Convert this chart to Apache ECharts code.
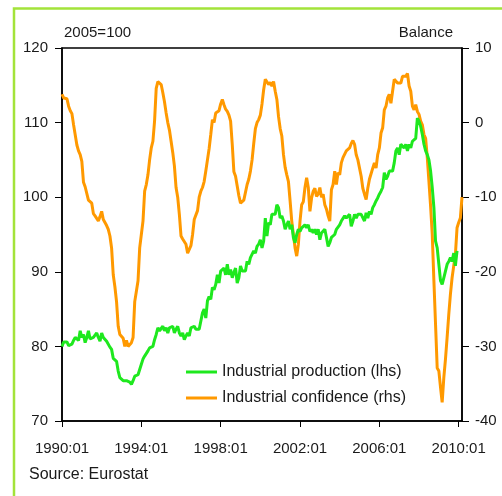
<!DOCTYPE html>
<html>
<head>
<meta charset="utf-8">
<script src="https://cdn.jsdelivr.net/npm/echarts@6/dist/echarts.min.js"></script>
<style>
  html, body { margin: 0; padding: 0; background: #fff; }
  #chart { width: 502px; height: 496px; }
</style>
</head>
<body>
<div id="chart"></div>
<script>
// monthly values, 1990:01 onwards
var production = [
  80.0, 80.6, 80.4, 80.6, 80.1, 79.9, 80.3, 80.8, 81.2, 81.4, 80.8, 82.1,
  81.2, 81.6, 80.5, 81.2, 82.1, 81.0, 81.2, 81.2, 81.2, 81.8, 81.2, 80.7,
  81.8, 81.2, 81.0, 80.7, 80.7, 79.9, 79.6, 78.4, 78.2, 78.0, 76.7, 75.8,
  75.6, 75.4, 75.6, 75.4, 75.4, 75.2, 74.9, 75.4, 76.0, 75.8, 76.2, 76.9,
  77.6, 78.3, 78.7, 78.5, 79.4, 79.8, 79.6, 80.0, 80.9, 81.6, 82.5, 82.1,
  82.3, 82.7, 82.1, 82.5, 81.8, 82.5, 82.3, 82.7, 81.8, 82.3, 82.7, 81.8,
  81.4, 81.8, 80.9, 81.4, 81.8, 81.4, 82.5, 82.3, 82.7, 82.3, 82.5, 82.3,
  82.3, 84.5, 85.0, 83.8, 86.1, 86.7, 86.3, 87.9, 87.6, 88.3, 89.6, 88.5,
  90.1, 90.3, 90.5, 89.6, 91.0, 89.6, 90.3, 89.2, 89.9, 90.5, 88.5, 89.2,
  90.8, 90.1, 90.3, 90.1, 91.4, 91.0, 91.9, 91.9, 92.8, 92.5, 93.4, 93.7,
  94.3, 93.2, 94.1, 97.2, 94.8, 96.6, 96.3, 97.7, 97.5, 97.7, 99.0, 98.6,
  97.2, 97.5, 96.8, 95.7, 96.3, 96.8, 95.7, 96.3, 94.6, 93.9, 95.0, 95.7,
  95.4, 95.9, 95.7, 96.3, 95.9, 96.3, 95.4, 95.7, 95.2, 95.7, 95.0, 95.7,
  94.3, 95.2, 95.0, 95.7, 94.6, 93.4, 93.9, 94.6, 94.8, 95.0, 95.7, 95.9,
  96.3, 96.8, 96.8, 97.5, 97.2, 97.0, 97.7, 96.1, 96.8, 97.7, 97.2, 97.7,
  97.5, 97.7, 97.5, 96.8, 97.9, 97.2, 98.1, 97.7, 98.6, 99.0, 99.5, 99.9,
  100.4, 100.8, 101.3, 103.3, 102.4, 102.8, 103.5, 103.3, 103.5, 104.6, 106.2, 106.6,
  105.7, 107.1, 107.3, 106.6, 107.1, 106.2, 107.1, 106.6, 107.5, 107.3, 107.9, 110.6,
  110.2, 109.5, 108.4, 107.1, 106.2, 105.7, 105.0, 103.5, 101.3, 98.6, 94.1, 93.2,
  91.0, 88.8, 88.3, 89.2, 90.1, 91.0, 91.4, 91.9, 91.4, 92.5, 90.8, 92.8
];

var confidence = [
  3.8, 3.3, 3.4, 3.2, 2.2, 1.6, 1.2, -0.3, -0.3, -3.0, -3.8, -4.3,
  -5.2, -8.0, -8.6, -8.8, -10.4, -10.6, -10.8, -12.2, -12.5, -12.6, -13.2, -12.6,
  -11.9, -13.0, -13.4, -13.8, -14.3, -15.2, -16.8, -20.4, -22.0, -24.0, -27.3, -28.4,
  -28.6, -28.9, -30.0, -29.2, -30.0, -29.9, -29.5, -28.8, -24.0, -22.6, -21.2, -16.8,
  -15.0, -13.2, -9.2, -8.3, -7.0, -5.0, -3.4, -2.5, 0.2, 4.6, 5.5, 5.6,
  5.1, 4.0, 2.8, 1.3, 0.0, -1.0, -2.5, -4.0, -5.8, -8.7, -10.0, -12.3,
  -15.2, -15.6, -15.8, -16.3, -17.5, -17.7, -16.5, -15.0, -13.0, -13.2, -11.8, -10.0,
  -9.2, -8.7, -7.9, -6.5, -5.0, -3.5, -1.6, 0.4, 0.0, 1.3, 1.4, 1.6,
  2.5, 3.1, 2.4, 1.8, 1.5, 1.0, 0.2, -2.9, -6.6, -7.2, -8.5, -9.8,
  -10.8, -11.0, -10.4, -10.2, -8.3, -7.6, -6.5, -5.0, -2.8, -0.8, 0.0, 0.4,
  1.0, 2.5, 4.4, 5.8, 5.6, 5.1, 5.4, 4.9, 5.5, 4.2, 3.1, 0.8,
  -0.8, -1.8, -4.3, -6.0, -7.0, -7.9, -10.5, -13.2, -15.0, -16.8, -17.9, -16.3,
  -13.2, -11.0, -10.6, -8.7, -7.4, -8.7, -11.9, -10.1, -9.2, -8.8, -9.9, -9.6,
  -8.7, -10.0, -9.6, -11.0, -11.6, -12.5, -13.2, -9.0, -8.3, -6.5, -8.3, -6.7,
  -7.0, -5.4, -4.7, -4.8, -3.8, -3.6, -3.4, -2.8, -2.4, -2.9, -4.3, -5.0,
  -4.8, -7.2, -8.8, -9.6, -10.3, -8.8, -7.6, -7.4, -6.1, -5.4, -6.1, -4.3,
  -3.4, -1.4, -0.7, 1.7, 2.2, 3.3, 3.8, 2.6, 4.2, 5.8, 6.0, 5.3,
  5.5, 5.3, 6.2, 6.4, 6.2, 6.6, 4.9, 4.2, 2.2, 1.7, 2.4, 1.5,
  1.1, 0.2, -0.3, -1.6, -2.1, -4.7, -7.9, -11.2, -15.0, -21.2, -27.1, -32.9,
  -33.3, -35.5, -37.5, -34.2, -31.7, -28.8, -25.7, -23.0, -20.8, -19.2, -17.7, -14.1,
  -13.4, -12.8, -10.0
];

// month labels 1990:01 ... 2010:03
var months = [];
for (var i = 0; i < confidence.length; i++) {
  var y = 1990 + Math.floor(i / 12), m = i % 12 + 1;
  months.push(y + ':' + (m < 10 ? '0' + m : m));
}

var font = 'Liberation Sans';
var txt = '#1a1a1a';

var chart = echarts.init(document.getElementById('chart'));
chart.setOption({
  animation: false,
  backgroundColor: '#fff',
  textStyle: { fontFamily: font },
  grid: { left: 62, right: 40, top: 48, bottom: 75, show: true, borderColor: '#000', borderWidth: 1.5 },
  legend: {
    data: ['Industrial production (lhs)', 'Industrial confidence (rhs)'],
    orient: 'vertical',
    left: 186,
    top: 364,
    padding: 0,
    icon: 'rect',
    itemWidth: 31,
    itemHeight: 3,
    itemGap: 10,
    textStyle: { fontFamily: font, fontSize: 16, color: txt }
  },
  xAxis: {
    type: 'category',
    data: months,
    boundaryGap: false,
    axisLine: { onZero: false, lineStyle: { color: '#000', width: 1.5 } },
    axisTick: {
      inside: false, length: 6, lineStyle: { color: '#000' },
      interval: function (idx) { return idx % 48 === 0; }
    },
    axisLabel: {
      margin: 20, fontSize: 15, color: txt, fontFamily: font,
      interval: function (idx) { return idx % 48 === 0; }
    },
    splitLine: { show: false }
  },
  yAxis: [{
    type: 'value', min: 70, max: 120, interval: 10,
    axisLine: { show: true, onZero: false, lineStyle: { color: '#000', width: 1.5 } },
    axisTick: { show: true, length: 7, lineStyle: { color: '#000' } },
    axisLabel: { margin: 14, fontSize: 15, color: txt, fontFamily: font },
    splitLine: { show: false }
  }, {
    type: 'value', min: -40, max: 10, interval: 10, position: 'right',
    axisLine: { show: true, onZero: false, lineStyle: { color: '#000', width: 1.5 } },
    axisTick: { show: true, length: 7, lineStyle: { color: '#000' } },
    axisLabel: { margin: 13, fontSize: 15, color: txt, fontFamily: font },
    splitLine: { show: false }
  }],
  series: [{
    name: 'Industrial confidence (rhs)',
    type: 'line',
    yAxisIndex: 1,
    data: confidence,
    symbol: 'none',
    lineStyle: { color: '#ff9900', width: 3 },
    itemStyle: { color: '#ff9900' }
  }, {
    name: 'Industrial production (lhs)',
    type: 'line',
    yAxisIndex: 0,
    data: production,
    symbol: 'none',
    lineStyle: { color: '#1ee81e', width: 3 },
    itemStyle: { color: '#1ee81e' }
  }],
  graphic: [
    { type: 'rect', shape: { x: 14, y: 8.5, width: 560, height: 560 },
      style: { fill: 'none', stroke: '#a3e33a', lineWidth: 2.5 }, silent: true },
    { type: 'text', left: 64, top: 25,
      style: { text: '2005=100', fontFamily: font, fontSize: 15, fill: txt } },
    { type: 'text', right: 49, top: 25,
      style: { text: 'Balance', fontFamily: font, fontSize: 15, fill: txt } },
    { type: 'text', left: 29, top: 467,
      style: { text: 'Source: Eurostat', fontFamily: font, fontSize: 16, fill: txt } }
  ]
});
</script>
</body>
</html>
